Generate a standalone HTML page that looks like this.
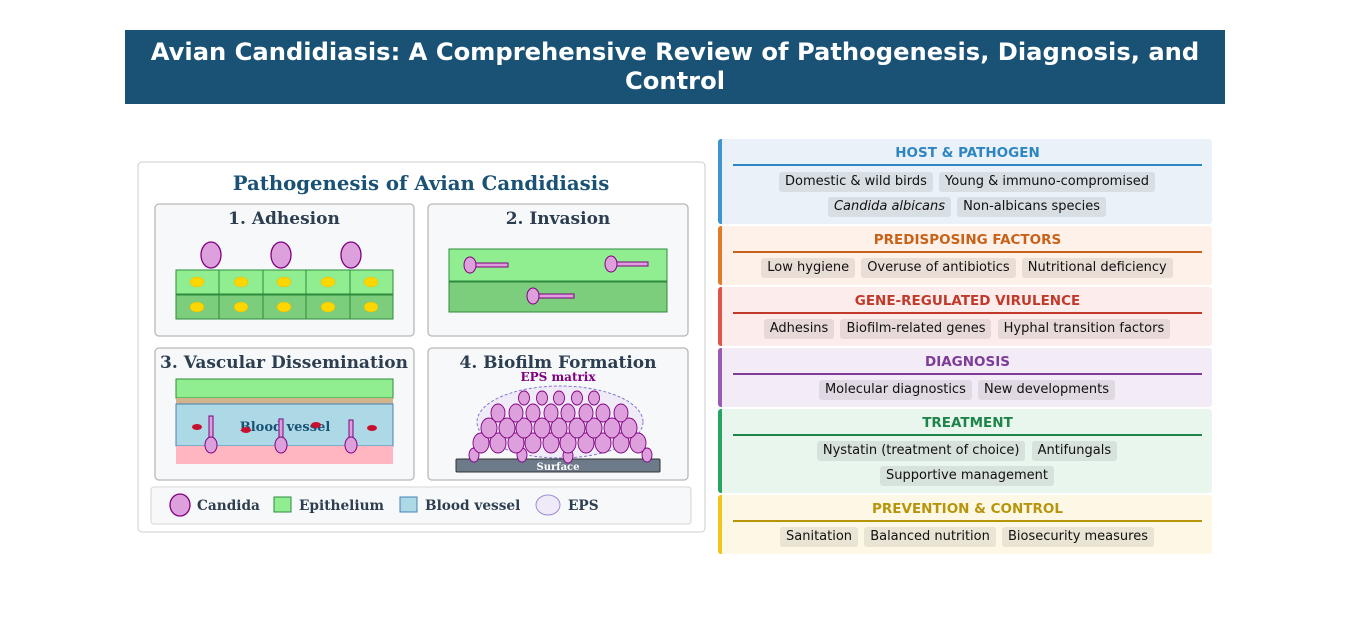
<!DOCTYPE html>
<html><head><meta charset="utf-8"><style>
body{margin:0;width:1350px;height:619px;background:#fff;position:relative;font-family:"DejaVu Sans","Liberation Sans",sans-serif;overflow:hidden}
.hdr{position:absolute;left:125px;top:30px;width:1100px;height:74px;background:#1a5276;color:#fff;font-weight:bold;font-size:24.2px;text-align:center;line-height:29px;padding-top:8px;box-sizing:border-box}
.sec{position:absolute;left:718px;width:494px;border-left:4px solid;box-sizing:border-box;border-radius:3px}
.t{font-weight:bold;font-size:13.5px;text-align:center;height:25px;line-height:29px;margin:0 10px 0 11px;border-bottom:2px solid}
.row{text-align:center;margin-top:4px;font-size:13px;height:21px}
.c{display:inline-block;border-radius:3px;padding:0 6px;height:20px;line-height:20px;margin:0 1px;color:#111;background:rgba(0,0,0,0.08)}
</style></head><body>
<div class="hdr">Avian Candidiasis: A Comprehensive Review of Pathogenesis, Diagnosis, and<br>Control</div>

<svg style="position:absolute;left:0;top:0" width="720" height="619" font-family="DejaVu Serif, Liberation Serif, serif">
<rect x="138" y="162" width="567" height="370" rx="4" fill="#fff" stroke="#ccc"/>
<text x="421" y="190" text-anchor="middle" font-size="19.7" font-weight="bold" fill="#1a5276">Pathogenesis of Avian Candidiasis</text>
<g fill="#f7f8fa" stroke="#b8b8b8" stroke-width="1.3">
<rect x="155" y="204" width="259" height="132" rx="4"/><rect x="428" y="204" width="260" height="132" rx="4"/>
<rect x="155" y="348" width="259" height="132" rx="4"/><rect x="428" y="348" width="260" height="132" rx="4"/>
<rect x="151" y="487" width="540" height="37" rx="3" stroke="#ddd"/>
</g>
<g font-size="17" font-weight="bold" fill="#2c3e50" text-anchor="middle">
<text x="284" y="224">1. Adhesion</text><text x="558" y="224">2. Invasion</text>
<text x="284" y="368">3. Vascular Dissemination</text><text x="558" y="368">4. Biofilm Formation</text></g>
<!-- adhesion -->
<g fill="#dda0dd" stroke="#800080" stroke-width="1.3"><ellipse cx="211" cy="255" rx="10" ry="13"/><ellipse cx="281" cy="255" rx="10" ry="13"/><ellipse cx="351" cy="255" rx="10" ry="13"/></g>
<g stroke="#2e8b3e" stroke-width="1">
<rect x="176" y="270" width="217" height="24" fill="#90ee90"/><rect x="176" y="295" width="217" height="24" fill="#7ccd7c"/>
<line x1="219" y1="270" x2="219" y2="319"/><line x1="263" y1="270" x2="263" y2="319"/><line x1="306" y1="270" x2="306" y2="319"/><line x1="350" y1="270" x2="350" y2="319"/></g>
<g fill="#ffd700" stroke="#e6b800" stroke-width=".5">
<ellipse cx="197" cy="282" rx="7" ry="5"/><ellipse cx="241" cy="282" rx="7" ry="5"/><ellipse cx="284" cy="282" rx="7" ry="5"/><ellipse cx="328" cy="282" rx="7" ry="5"/><ellipse cx="371" cy="282" rx="7" ry="5"/>
<ellipse cx="197" cy="307" rx="7" ry="5"/><ellipse cx="241" cy="307" rx="7" ry="5"/><ellipse cx="284" cy="307" rx="7" ry="5"/><ellipse cx="328" cy="307" rx="7" ry="5"/><ellipse cx="371" cy="307" rx="7" ry="5"/></g>
<!-- invasion -->
<rect x="449" y="249" width="218" height="32" fill="#90ee90" stroke="#2e8b3e"/><rect x="449" y="282" width="218" height="30" fill="#7ccd7c" stroke="#2e8b3e"/>
<g fill="#dda0dd" stroke="#800080" stroke-width="1">
<rect x="474" y="263" width="34" height="4"/><ellipse cx="470" cy="265" rx="6" ry="8"/>
<rect x="615" y="262" width="33" height="4"/><ellipse cx="611" cy="264" rx="6" ry="8"/>
<rect x="537" y="294" width="37" height="4"/><ellipse cx="533" cy="296" rx="6" ry="8"/></g>
<!-- vascular -->
<rect x="176" y="379" width="217" height="19" fill="#90ee90" stroke="#2e8b3e"/>
<rect x="176" y="398" width="217" height="6" fill="#d2b48c"/>
<rect x="176" y="404" width="217" height="42" fill="#add8e6" stroke="#4682b4"/>
<rect x="176" y="446" width="217" height="18" fill="#ffb6c1"/>
<text x="285" y="431" text-anchor="middle" font-size="13" font-weight="bold" fill="#1a5276">Blood vessel</text>
<g fill="#c8102e"><ellipse cx="197" cy="427" rx="5" ry="3"/><ellipse cx="246" cy="430" rx="5" ry="3"/><ellipse cx="316" cy="425" rx="5" ry="3"/><ellipse cx="372" cy="428" rx="5" ry="3"/></g>
<g fill="#dda0dd" stroke="#800080" stroke-width="1">
<rect x="209" y="416" width="4" height="24"/><ellipse cx="211" cy="445" rx="6" ry="8"/>
<rect x="279" y="419" width="4" height="21"/><ellipse cx="281" cy="445" rx="6" ry="8"/>
<rect x="349" y="420" width="4" height="20"/><ellipse cx="351" cy="445" rx="6" ry="8"/></g>
<!-- biofilm -->
<ellipse cx="560" cy="422" rx="83" ry="36" fill="#f0eaf8" stroke="#7b68c8" stroke-dasharray="3,2" opacity=".9"/>
<text x="558" y="381" text-anchor="middle" font-size="12" font-weight="bold" fill="#800080">EPS matrix</text>
<rect x="456" y="459" width="204" height="13" fill="#6c7a89" stroke="#333" rx="1"/>
<text x="558" y="470" text-anchor="middle" font-size="10" font-weight="bold" fill="#fff">Surface</text>
<g fill="#dda0dd" stroke="#800080" stroke-width=".9">
<ellipse cx="474" cy="455" rx="5" ry="7"/><ellipse cx="522" cy="455" rx="5" ry="7"/><ellipse cx="568" cy="456" rx="5" ry="7"/><ellipse cx="647" cy="455" rx="5" ry="7"/>
<ellipse cx="481" cy="443" rx="8" ry="10"/><ellipse cx="498" cy="443" rx="8" ry="10"/><ellipse cx="516" cy="443" rx="8" ry="10"/><ellipse cx="533" cy="443" rx="8" ry="10"/><ellipse cx="551" cy="443" rx="8" ry="10"/><ellipse cx="568" cy="443" rx="8" ry="10"/><ellipse cx="586" cy="443" rx="8" ry="10"/><ellipse cx="603" cy="443" rx="8" ry="10"/><ellipse cx="621" cy="443" rx="8" ry="10"/><ellipse cx="638" cy="443" rx="8" ry="10"/>
<ellipse cx="489" cy="428" rx="8" ry="10"/><ellipse cx="507" cy="428" rx="8" ry="10"/><ellipse cx="524" cy="428" rx="8" ry="10"/><ellipse cx="542" cy="428" rx="8" ry="10"/><ellipse cx="559" cy="428" rx="8" ry="10"/><ellipse cx="577" cy="428" rx="8" ry="10"/><ellipse cx="594" cy="428" rx="8" ry="10"/><ellipse cx="612" cy="428" rx="8" ry="10"/><ellipse cx="629" cy="428" rx="8" ry="10"/>
<ellipse cx="498" cy="413" rx="7" ry="9"/><ellipse cx="516" cy="413" rx="7" ry="9"/><ellipse cx="533" cy="413" rx="7" ry="9"/><ellipse cx="551" cy="413" rx="7" ry="9"/><ellipse cx="568" cy="413" rx="7" ry="9"/><ellipse cx="586" cy="413" rx="7" ry="9"/><ellipse cx="603" cy="413" rx="7" ry="9"/><ellipse cx="621" cy="413" rx="7" ry="9"/>
<ellipse cx="524" cy="398" rx="5.5" ry="7"/><ellipse cx="542" cy="398" rx="5.5" ry="7"/><ellipse cx="559" cy="398" rx="5.5" ry="7"/><ellipse cx="577" cy="398" rx="5.5" ry="7"/><ellipse cx="594" cy="398" rx="5.5" ry="7"/></g>
<!-- legend -->
<ellipse cx="180" cy="505" rx="10" ry="11" fill="#dda0dd" stroke="#800080" stroke-width="1.3"/>
<rect x="274" y="497" width="17" height="15" fill="#90ee90" stroke="#2e8b3e"/>
<rect x="400" y="497" width="17" height="15" fill="#add8e6" stroke="#4682b4"/>
<ellipse cx="548" cy="505" rx="12" ry="10" fill="#f0eaf8" stroke="#9b8fd0"/>
<g font-size="13.7" font-weight="bold" fill="#2c3e50"><text x="197" y="510">Candida</text><text x="299" y="510">Epithelium</text><text x="425" y="510">Blood vessel</text><text x="568" y="510">EPS</text></g>
</svg>

<div class="sec" style="top:139px;height:85px;background:#eaf1f8;border-color:#3d94cf"><div class="t" style="color:#2e86c1;border-color:#2e86c1">HOST &amp; PATHOGEN</div>
<div class="row" style="margin-top:6px"><span class="c">Domestic &amp; wild birds</span> <span class="c">Young &amp; immuno-compromised</span></div>
<div class="row"><span class="c"><i>Candida albicans</i></span> <span class="c">Non-albicans species</span></div></div>

<div class="sec" style="top:226px;height:59px;background:#fdf1e9;border-color:#e07b2a"><div class="t" style="color:#c8621a;border-color:#c8621a">PREDISPOSING FACTORS</div>
<div class="row" style="margin-top:5px"><span class="c">Low hygiene</span> <span class="c">Overuse of antibiotics</span> <span class="c">Nutritional deficiency</span></div></div>

<div class="sec" style="top:287px;height:59px;background:#fcecec;border-color:#e05548"><div class="t" style="color:#c0392b;border-color:#c0392b">GENE-REGULATED VIRULENCE</div>
<div class="row" style="margin-top:5px"><span class="c">Adhesins</span> <span class="c">Biofilm-related genes</span> <span class="c">Hyphal transition factors</span></div></div>

<div class="sec" style="top:348px;height:59px;background:#f3ebf6;border-color:#9b59b6"><div class="t" style="color:#7d3c98;border-color:#7d3c98">DIAGNOSIS</div>
<div class="row" style="margin-top:5px"><span class="c">Molecular diagnostics</span> <span class="c">New developments</span></div></div>

<div class="sec" style="top:409px;height:84px;background:#e9f6ee;border-color:#27a460"><div class="t" style="color:#1e8449;border-color:#1e8449">TREATMENT</div>
<div class="row" style="margin-top:5px"><span class="c">Nystatin (treatment of choice)</span> <span class="c">Antifungals</span></div>
<div class="row"><span class="c">Supportive management</span></div></div>

<div class="sec" style="top:495px;height:59px;background:#fdf8e6;border-color:#f0c419"><div class="t" style="color:#b7950b;border-color:#b7950b">PREVENTION &amp; CONTROL</div>
<div class="row" style="margin-top:5px"><span class="c">Sanitation</span> <span class="c">Balanced nutrition</span> <span class="c">Biosecurity measures</span></div></div>
</body></html>
